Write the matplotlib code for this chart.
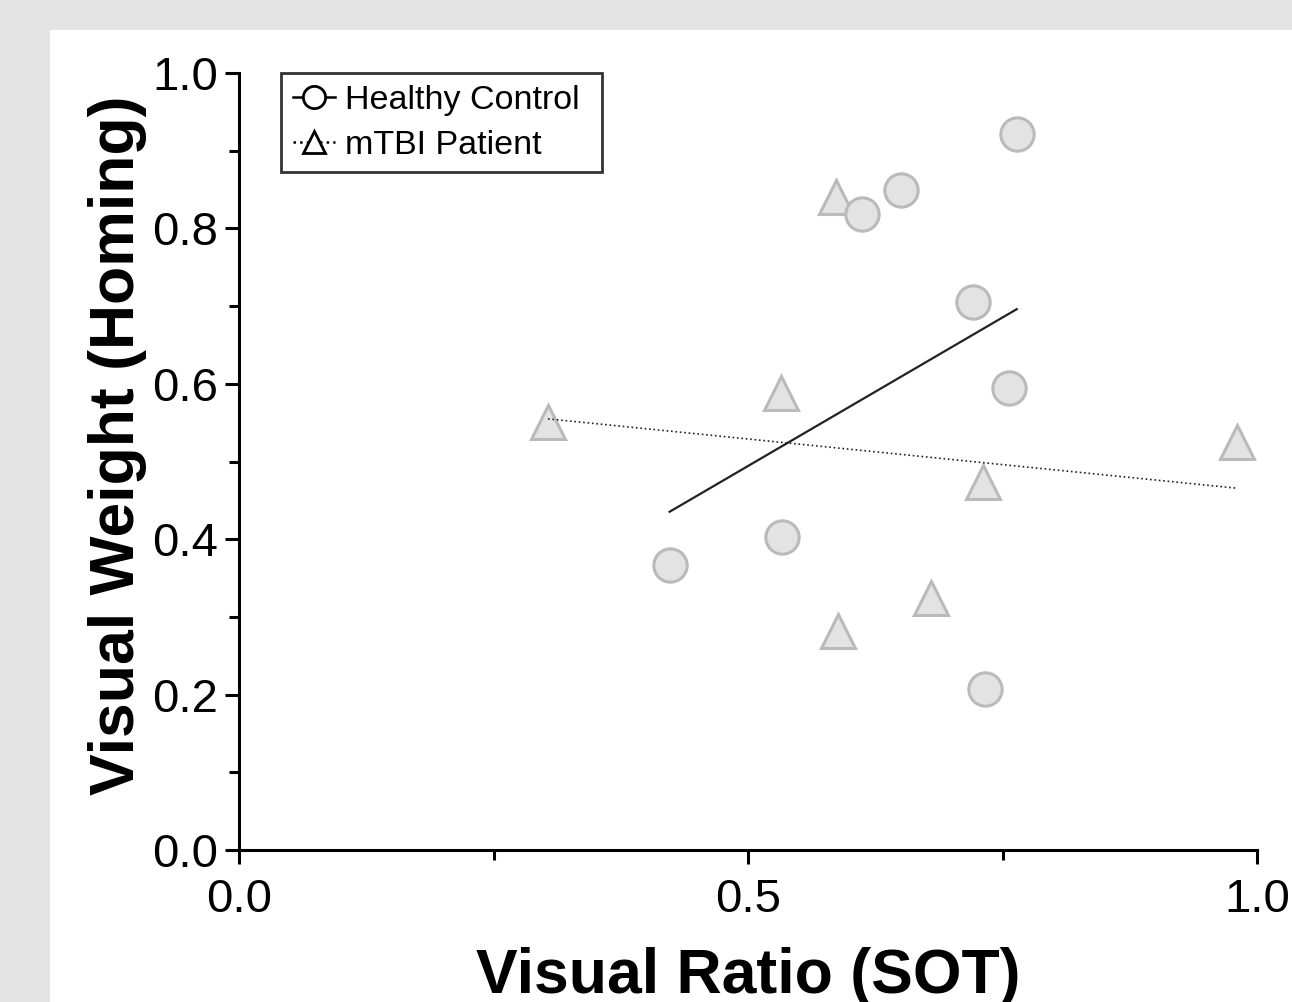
import numpy as np
import matplotlib
matplotlib.use("Agg")
import matplotlib.pyplot as plt
from matplotlib.lines import Line2D
from matplotlib.patches import Rectangle

# Data (Visual Ratio (SOT), Visual Weight (Homing))
hc_x = [0.423, 0.533, 0.612, 0.650, 0.764, 0.721, 0.756, 0.733]
hc_y = [0.367, 0.403, 0.818, 0.849, 0.921, 0.705, 0.595, 0.207]
tbi_x = [0.3035, 0.586, 0.532, 0.731, 0.680, 0.588, 0.980]
tbi_y = [0.551, 0.840, 0.588, 0.474, 0.324, 0.282, 0.525]
labels = ["Healthy Control", "mTBI Patient"]
xticks = [0.0, 0.5, 1.0]
yticks = [0.0, 0.2, 0.4, 0.6, 0.8, 1.0]

plt.rcParams['font.family'] = ['Liberation Sans', 'DejaVu Sans']

BG = '#e3e3e3'
fig = plt.figure(figsize=(12.92, 10.02), dpi=100, facecolor=BG)
fig.patches.append(Rectangle((50/1292, 0), 1 - 50/1292, 1 - 30/1002,
                             transform=fig.transFigure, facecolor='white',
                             edgecolor='none', zorder=-10))
ax = fig.add_axes([239/1292, (1002-850)/1002, (1257-239)/1292, (850-73)/1002])
ax.set_facecolor('none')

mk = dict(markerfacecolor=BG, markeredgecolor='#bababa', markeredgewidth=2.2,
          linestyle='none', markersize=24, zorder=2, clip_on=False)
ax.plot(tbi_x, tbi_y, marker='^', **mk)
ax.plot(hc_x, hc_y, marker='o', **mk)

# regression lines
for xs, ys, ls, lw in [(hc_x, hc_y, '-', 1.6), (tbi_x, tbi_y, ':', 1.2)]:
    xs = np.array(xs); ys = np.array(ys)
    m, b = np.polyfit(xs, ys, 1)
    xx = np.array([xs.min(), xs.max()])
    ax.plot(xx, m * xx + b, color='#222222', linestyle=ls, linewidth=lw, zorder=3)

ax.set_xlim(0, 1)
ax.set_ylim(0, 1)
ax.spines['top'].set_visible(False)
ax.spines['right'].set_visible(False)
for s in ['left', 'bottom']:
    ax.spines[s].set_linewidth(2.2)
ax.set_xticks(xticks)
ax.set_xticklabels([f"{v:.1f}" for v in xticks])
ax.set_yticks(yticks)
ax.set_yticklabels([f"{v:.1f}" for v in yticks])
ax.set_xticks([0.25, 0.75], minor=True)
ax.set_yticks([0.1, 0.3, 0.5, 0.7, 0.9], minor=True)
ax.tick_params(which='major', length=10, width=2.2, labelsize=34, pad=5)
ax.tick_params(which='minor', length=7, width=2.2)
ax.tick_params(axis='x', which='major', pad=10)

ax.set_xlabel("Visual Ratio (SOT)", fontsize=45, fontweight='bold')
ax.xaxis.set_label_coords(0.5, -0.125)
ax.xaxis.label.set_va('top')
ax.set_ylabel("Visual Weight (Homing)", fontsize=45, fontweight='bold')
ax.yaxis.set_label_coords(-0.09, 0.521)

handles = [Line2D([], [], color='black', linestyle='-', linewidth=1.8, marker='o',
                  markersize=16, markerfacecolor='white', markeredgecolor='black',
                  markeredgewidth=2.0),
           Line2D([], [], color='black', linestyle=':', linewidth=1.8, marker='^',
                  markersize=16, markerfacecolor='white', markeredgecolor='black',
                  markeredgewidth=2.0)]
leg = ax.legend(handles, labels, loc='upper left',
                bbox_to_anchor=(0.041, 0.5, 0.316, 0.5), mode='expand',
                fontsize=24.5, frameon=True, fancybox=False, handlelength=1.25,
                handletextpad=0.3, borderpad=0.35, labelspacing=0.4,
                borderaxespad=0.0)
leg.get_frame().set_edgecolor('black')
leg.get_frame().set_linewidth(2)

fig.savefig('out.png', dpi=100, facecolor=BG)
